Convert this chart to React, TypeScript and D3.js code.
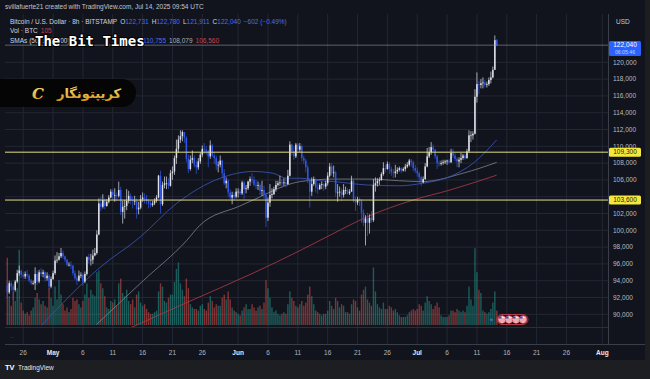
import React from 'react';
import * as d3 from 'd3';

// ---------- DATA (BTC/USD 8h, thousands of USD) ----------
const firstOpen = 93.4;
const firstCandle = Date.UTC(2025, 3, 23, 8);
const closes = [
  92.6, 93.7,
  93.3, 92.9, 93.9, 94.9, 95.2, 94.7, 94.5, 94.8, 94.6, 94.0, 93.7, 93.7, 94.8, 93.9, 95.0, 94.8, 95.0, 94.3, 94.6, 93.3, 94.2,
  94.9, 96.4, 96.5, 96.9, 97.3, 96.9, 96.5, 95.9, 95.9, 95.8, 94.9, 94.3, 94.0, 94.6, 94.7, 93.9, 94.8, 96.8, 96.5, 96.5, 97.0,
  97.3, 99.5, 103.2, 102.8, 103.6, 102.9, 103.4, 103.9, 104.6, 104.2, 104.2, 104.1, 104.8, 102.2, 102.8, 102.9, 103.5, 104.1,
  103.6, 103.5, 103.5, 102.5, 102.7, 103.7, 103.9, 103.8, 103.5, 103.2, 103.0, 103.2, 103.5, 103.9, 106.5, 103.1, 105.4, 105.6,
  105.6, 105.3, 106.8, 107.0, 108.6, 109.7, 110.8, 111.2, 111.7, 111.0, 108.5, 107.3, 108.4, 108.6, 107.8, 107.5, 108.2, 109.0,
  109.7, 109.6, 109.4, 108.8, 110.1, 108.9, 108.6, 107.8, 107.8, 108.3, 106.8, 105.6, 105.9, 104.5, 103.9, 104.2, 104.0, 104.6,
  104.6, 104.4, 105.7, 104.9, 105.0, 105.8, 106.1, 106.0, 105.4, 105.3, 105.4, 104.7, 104.8, 104.2, 101.5, 103.3, 104.2, 104.3,
  104.9, 105.4, 105.6, 105.7, 105.6, 105.7, 105.5, 106.5, 110.2, 109.4, 108.8, 110.2, 109.6, 110.0, 108.6, 108.3, 107.5, 105.9,
  104.6, 105.5, 106.1, 105.1, 104.9, 105.4, 105.5, 105.2, 105.6, 106.5, 107.6, 106.8, 106.9, 104.5, 104.5, 104.6, 104.2, 104.8,
  104.8, 104.4, 104.6, 105.9, 103.5, 103.3, 103.7, 103.5, 102.1, 100.9, 101.4, 100.9, 101.5, 101.2, 105.4, 105.6, 105.9, 106.0,
  106.7, 107.4, 107.3, 107.9, 107.3, 106.9, 106.8, 107.0, 107.2, 107.4, 107.1, 107.3, 107.6, 107.8, 108.3, 108.1, 107.4, 107.1,
  106.8, 106.3, 105.7, 106.1, 107.6, 108.8, 109.3, 109.9, 109.6, 108.8, 108.0, 107.9, 108.0, 108.1, 108.2, 108.3, 108.1, 109.2,
  108.9, 108.5, 108.2, 108.4, 108.6, 108.9, 108.6, 109.4, 111.3, 111.3, 111.5, 115.9, 117.4, 117.3, 117.5, 117.6, 117.3, 117.4,
  117.9, 118.2, 119.1, 122.64, 122.04,
];
const highs = [
  93.9, 94.0,
  93.9, 93.6, 94.1, 95.3, 95.8, 95.3, 95.0, 95.1, 95.3, 94.8, 94.2, 94.0, 95.6, 95.2, 95.3, 95.5, 95.3, 95.1, 95.0, 94.8, 94.5,
  95.2, 97.0, 97.4, 97.3, 97.9, 97.6, 97.0, 96.6, 96.2, 96.3, 95.9, 95.2, 94.6, 95.2, 95.0, 94.9, 95.1, 96.9, 97.2, 97.2, 97.7,
  97.9, 100.0, 103.8, 104.0, 104.3, 103.8, 103.7, 104.2, 104.9, 104.9, 105.0, 104.5, 105.8, 105.2, 103.5, 103.6, 104.9, 104.7,
  104.4, 104.0, 104.1, 103.8, 103.4, 104.2, 104.5, 104.4, 104.2, 103.7, 103.5, 103.5, 103.8, 104.2, 106.6, 107.1, 105.8, 106.4,
  106.4, 106.2, 107.2, 107.6, 108.9, 110.8, 111.3, 111.9, 111.9, 111.5, 111.2, 109.0, 108.9, 109.5, 108.9, 108.3, 108.6, 109.3,
  110.1, 110.4, 110.0, 109.6, 110.7, 110.3, 109.3, 108.9, 108.2, 108.9, 108.4, 107.3, 106.3, 106.1, 104.9, 104.6, 104.5, 105.0,
  105.0, 104.9, 105.9, 105.9, 105.4, 105.9, 106.4, 106.8, 106.4, 106.0, 105.8, 105.6, 105.9, 105.3, 104.5, 103.9, 105.5, 105.0,
  105.2, 105.9, 105.9, 106.5, 106.1, 106.2, 106.2, 107.2, 110.6, 110.3, 110.0, 110.4, 110.4, 110.4, 110.2, 108.9, 108.5, 107.8,
  106.2, 106.3, 106.4, 106.2, 105.6, 105.6, 105.8, 105.6, 105.9, 106.9, 108.0, 108.0, 107.7, 107.1, 105.5, 105.2, 105.0, 105.5,
  105.2, 105.0, 104.9, 106.5, 106.1, 104.0, 104.0, 103.9, 103.7, 102.5, 101.8, 102.1, 101.9, 102.3, 106.1, 106.3, 106.2, 106.3,
  106.9, 108.1, 107.8, 108.2, 108.1, 107.6, 107.3, 107.8, 107.5, 107.6, 107.5, 107.5, 107.9, 108.1, 108.5, 108.5, 108.3, 107.8,
  107.5, 107.0, 106.5, 106.4, 108.0, 109.8, 109.9, 110.5, 110.2, 109.7, 109.0, 108.3, 108.3, 108.4, 108.4, 108.4, 108.5, 109.7,
  109.7, 109.2, 108.7, 108.7, 109.2, 109.1, 109.1, 109.7, 111.9, 111.8, 111.8, 116.8, 118.8, 117.8, 118.0, 118.2, 117.9, 117.7,
  118.2, 118.9, 119.5, 123.2, 122.78,
];
const lows = [
  91.9, 92.4,
  92.8, 91.7, 92.7, 93.7, 94.6, 94.3, 94.3, 94.2, 94.3, 93.8, 93.5, 93.5, 92.9, 93.5, 93.7, 94.5, 94.4, 93.9, 94.0, 92.9, 93.1,
  94.1, 94.7, 96.1, 96.4, 96.7, 96.6, 96.2, 95.7, 95.7, 95.4, 94.6, 94.1, 93.5, 93.9, 94.3, 93.4, 93.7, 94.6, 96.0, 95.8, 96.0,
  96.9, 97.1, 99.4, 102.3, 102.6, 102.5, 102.8, 103.2, 103.8, 103.6, 103.4, 103.5, 103.9, 101.8, 100.8, 101.4, 102.4, 103.2,
  103.1, 102.6, 103.0, 101.4, 101.9, 102.5, 103.4, 103.2, 103.1, 102.6, 102.7, 102.8, 103.0, 103.3, 103.8, 102.0, 102.9, 105.0,
  104.9, 104.9, 105.2, 106.0, 106.6, 107.9, 109.2, 110.4, 110.6, 110.4, 108.1, 106.8, 107.1, 108.0, 107.5, 106.7, 107.2, 107.9,
  108.7, 109.1, 109.0, 107.5, 108.5, 108.7, 107.9, 107.2, 106.9, 107.5, 106.2, 105.4, 105.0, 104.0, 103.7, 103.1, 103.6, 103.8,
  103.9, 104.2, 104.2, 103.7, 104.4, 104.8, 105.3, 105.6, 105.2, 104.9, 104.8, 104.2, 104.1, 103.7, 100.4, 101.1, 102.8, 103.8,
  104.2, 104.6, 105.2, 105.3, 105.0, 105.3, 105.1, 105.4, 106.4, 108.9, 108.4, 108.6, 109.2, 109.3, 108.2, 107.9, 106.9, 105.6,
  102.7, 104.1, 105.3, 104.5, 104.3, 104.8, 104.9, 104.7, 104.9, 105.3, 106.3, 106.5, 106.3, 104.0, 103.4, 104.0, 103.5, 103.9,
  104.3, 104.2, 104.2, 104.6, 103.3, 102.3, 103.0, 102.9, 100.9, 100.5, 98.2, 99.3, 99.6, 100.9, 101.0, 104.6, 105.2, 105.4,
  105.9, 106.5, 106.9, 107.2, 106.7, 106.5, 106.2, 106.3, 106.7, 107.0, 106.8, 107.0, 107.0, 107.4, 107.6, 107.6, 107.0, 106.8,
  106.4, 105.6, 105.3, 105.6, 106.0, 107.5, 108.6, 109.0, 109.3, 108.5, 107.3, 107.6, 107.7, 107.8, 107.9, 107.8, 107.9, 108.0,
  108.6, 108.2, 107.5, 107.5, 108.0, 108.4, 108.4, 108.5, 109.2, 110.5, 110.8, 111.4, 115.2, 116.2, 116.9, 116.9, 117.0, 117.0,
  117.2, 117.5, 118.1, 119.1, 121.91,
];
const volumes = [
  4200, 1800,
  1200, 2100, 1500, 2300, 4700, 1400, 900, 700, 800, 600, 900, 1100, 1700, 2000, 1600, 1300, 1500, 1200, 1100, 2300, 1700,
  1200, 2400, 1600, 2800, 1900, 1300, 900, 1100, 800, 1000, 1700, 1500, 1600, 1300, 1100, 1500, 1900, 2600, 1700, 2200, 1900,
  1800, 3300, 3400, 2600, 2300, 1800, 1100, 1000, 1500, 1400, 1600, 1200, 2600, 2900, 2000, 1800, 2200, 1500,
  1300, 1600, 1100, 1900, 2100, 1400, 1200, 1300, 1000, 800, 700, 700, 800, 900, 2100, 2600, 2400, 1500,
  1400, 1700, 1900, 1900, 2700, 3500, 3900, 2600, 2200, 1800, 2900, 2300, 1300, 1100, 1000, 1000, 900, 1200,
  1300, 1000, 900, 1400, 1800, 1500, 1100, 1300, 1200, 1200, 1700, 1900, 1600, 2100, 1600, 1100, 900, 800,
  700, 600, 900, 1100, 1300, 1000, 1000, 1300, 1100, 900, 1100, 1200, 1000, 1400, 2800, 2300, 1700, 1100,
  800, 900, 700, 600, 700, 800, 700, 1300, 2100, 1700, 1500, 1200, 1100, 1300, 1500, 1200, 1400, 1900,
  2400, 1800, 1300, 900, 800, 700, 600, 700, 700, 900, 1500, 1200, 1000, 1700, 1500, 1100, 1300, 1200,
  800, 800, 700, 1300, 1600, 1500, 1100, 900, 1900, 2200, 2400, 1600, 1400, 1200, 3600, 2100, 1300, 1100,
  1000, 1400, 1000, 1000, 1200, 1100, 900, 1000, 800, 600, 500, 500, 500, 600, 800, 900, 1000, 900,
  1000, 1300, 1200, 900, 1400, 1800, 1500, 1300, 1000, 1200, 1400, 1100, 600, 500, 500, 500, 600, 900,
  900, 800, 1000, 900, 800, 900, 800, 1200, 2400, 1600, 1200, 4800, 3300, 2200, 2000, 900, 800, 700,
  800, 1000, 1400, 2100, 900,
];

// SMA readings: day offset from 26 Apr 2025, value in thousands
const smaBase = Date.UTC(2025, 3, 26);
const smaFastDays = [3.1, 12.9, 19.6, 25.7, 33, 38.5, 41.8, 44.1, 46.4, 49.7, 52, 57.5, 63, 66.9, 71.5, 75.4, 79.3];
const smaFastVals = [88.7, 95.6, 99.2, 103.2, 106.2, 107.0, 106.8, 106.2, 106.2, 105.9, 105.8, 105.4, 105.3, 105.6, 106.4, 108.0, 110.755];
const smaMidDays = [12.3, 20.1, 27.4, 29.6, 36.3, 38.5, 46.4, 52, 58.1, 63, 66.9, 73.7, 79.3];
const smaMidVals = [88.8, 94.0, 98.8, 100.6, 102.9, 103.6, 105.8, 106.1, 106.1, 105.9, 105.8, 106.8, 108.079];
const smaSlowDays = [18, 27.4, 38.5, 46.4, 49.7, 51.9, 57.6, 65.3, 71.5, 79.3];
const smaSlowVals = [88.4, 91.4, 94.9, 97.6, 98.8, 99.6, 101.6, 103.6, 104.8, 106.56];

const levelLines = [109300, 103600];
const lastPrice = 122040;
const priceTicks = d3.range(90000, 120001, 2000);
const timeTickDates = ['2025-04-26', '2025-05-01', '2025-05-06', '2025-05-11', '2025-05-16', '2025-05-21', '2025-05-26',
  '2025-06-01', '2025-06-06', '2025-06-11', '2025-06-16', '2025-06-21', '2025-06-26', '2025-07-01', '2025-07-06',
  '2025-07-11', '2025-07-16', '2025-07-21', '2025-07-26', '2025-08-01'];
const timeTickLabels = ['26', 'May', '6', '11', '16', '21', '26', 'Jun', '6', '11', '16', '21', '26', 'Jul', '6', '11', '16', '21', '26', 'Aug'];

// ---------- LAYOUT ----------
const W = 650, H = 379;
const paneL = 5, paneR = 608, paneT = 14, paneB = 327, axisY = 344;
const FONT = 'Liberation Sans, Arial, sans-serif';
const BG = '#11141c';
const GRID = '#232733';
const UP = '#dfe2ea';
const DOWN = '#3156e8';

export default function App() {
  const x = d3.scaleUtc()
    .domain([new Date(Date.UTC(2025, 3, 26)), new Date(Date.UTC(2025, 7, 1))])
    .range([23.2, 602.3]);
  const y = d3.scaleLinear().domain([90000, 120000]).range([314.3, 62.3]);
  const yv = d3.scaleLinear().domain([0, 5000]).range([325, 245]);
  const H8 = 8 * 3600 * 1000;

  const candles = closes.map((c, i) => {
    const o = i === 0 ? firstOpen : closes[i - 1];
    return { t: new Date(firstCandle + i * H8), o: o * 1000, c: c * 1000, h: highs[i] * 1000, l: lows[i] * 1000, v: volumes[i] };
  });

  const line = d3.line<[number, number]>()
    .x((d) => x(new Date(smaBase + d[0] * 86400000)))
    .y((d) => y(d[1] * 1000))
    .curve(d3.curveMonotoneX);
  const mk = (days: number[], vals: number[]) => line(days.map((d, i) => [d, vals[i]] as [number, number])) || '';

  const fmt = d3.format(',');
  // axis labels hidden behind the level boxes, as on the price scale
  const shownTicks = priceTicks.filter((p) => levelLines.every((l) => Math.abs(y(p) - y(l)) > 5));

  return (
    <svg width={W} height={H} style={{ position: 'absolute', left: 0, top: 0 }} fontFamily={FONT}>
      <defs>
        <clipPath id="pane"><rect x={paneL} y={paneT} width={paneR - paneL} height={paneB - paneT} /></clipPath>
        <linearGradient id="gold" x1="0" y1="0" x2="0" y2="1">
          <stop offset="0" stopColor="#ffe27a" />
          <stop offset="1" stopColor="#d99a1c" />
        </linearGradient>
      </defs>
      <rect x={0} y={0} width={W} height={H} fill={BG} />
      <rect x={645} y={0} width={5} height={H} fill="#1d1e22" />
      <rect x={0} y={360} width={W} height={19} fill="#1d1e22" />

      {/* grid */}
      {priceTicks.map((p) => (
        <line key={'gy' + p} x1={paneL} x2={paneR} y1={y(p)} y2={y(p)} stroke={GRID} strokeWidth={1} />
      ))}
      {timeTickDates.map((d) => (
        <line key={'gx' + d} x1={x(new Date(d))} x2={x(new Date(d))} y1={paneT} y2={axisY} stroke={GRID} strokeWidth={1} />
      ))}

      <g clipPath="url(#pane)">
        {/* volume */}
        {candles.map((k, i) => (
          <rect key={'v' + i} x={x(k.t) - 0.7} width={1.4} y={yv(k.v)} height={yv(0) - yv(k.v)}
            fill={k.c >= k.o ? 'rgba(38,166,154,0.5)' : 'rgba(239,83,80,0.5)'} />
        ))}
        {/* SMAs */}
        <path d={mk(smaSlowDays, smaSlowVals)} fill="none" stroke="#a8384a" strokeWidth={1} opacity={0.85} />
        <path d={mk(smaMidDays, smaMidVals)} fill="none" stroke="#7d828d" strokeWidth={1} opacity={0.8} />
        <path d={mk(smaFastDays, smaFastVals)} fill="none" stroke="#3550b0" strokeWidth={1} opacity={0.9} />
        {/* candles */}
        {candles.map((k, i) => {
          const col = k.c >= k.o ? UP : DOWN;
          const top = y(Math.max(k.o, k.c));
          const bot = y(Math.min(k.o, k.c));
          const cx = x(k.t);
          return (
            <g key={'c' + i}>
              <line x1={cx} x2={cx} y1={y(Math.max(k.h, k.o, k.c))} y2={y(Math.min(k.l, k.o, k.c))} stroke={col} strokeWidth={0.7} />
              <rect x={cx - 0.75} width={1.5} y={top} height={Math.max(0.7, bot - top)} fill={col} />
            </g>
          );
        })}
        {/* level lines */}
        {levelLines.map((p) => (
          <line key={'lv' + p} x1={paneL} x2={paneR} y1={y(p)} y2={y(p)} stroke="#e3dd86" strokeWidth={1} />
        ))}
        <line x1={paneL} x2={paneR} y1={y(lastPrice)} y2={y(lastPrice)} stroke="#9aa0ad" strokeWidth={0.8} opacity={0.7} />
      </g>

      {/* pane separators */}
      <line x1={paneL} x2={paneR} y1={paneB + 0.5} y2={paneB + 0.5} stroke="#2a2e39" />
      <line x1={paneL} x2={645} y1={axisY + 0.5} y2={axisY + 0.5} stroke="#3a3e49" />
      <line x1={paneR + 0.5} x2={paneR + 0.5} y1={paneT} y2={axisY} stroke="#3a3e49" />
      <text x={10} y={339} fontSize={6} fill="#6a6e78">··</text>

      {/* event flags */}
      <text x={489} y={322} fontSize={6} fill="#4a6cf7">✦</text>
      <rect x={497} y={314.5} width={31} height={10} rx={5} fill="none" stroke="#d8434e" strokeWidth={0.8} />
      {[502, 509, 516, 523].map((fx) => (
        <g key={'f' + fx}>
          <circle cx={fx} cy={319.5} r={3.8} fill="#f2f2f2" stroke="#d8434e" strokeWidth={0.8} />
          <line x1={fx - 3} x2={fx + 3} y1={319} y2={319} stroke="#d8434e" strokeWidth={0.8} />
          <line x1={fx - 3} x2={fx + 3} y1={321} y2={321} stroke="#d8434e" strokeWidth={0.8} />
          <rect x={fx - 3} y={316.5} width={2.6} height={2} fill="#3550b0" />
        </g>
      ))}

      {/* price axis */}
      <text x={616} y={24} fontSize={6.5} fill="#c8cad0">USD</text>
      {shownTicks.map((p) => (
        <text key={'pt' + p} x={613} y={y(p) + 2.3} fontSize={6.5} fill="#b8bbc4">{fmt(p)}</text>
      ))}
      <rect x={609} y={41} width={32} height={15} rx={1.5} fill="#2962ff" />
      <text x={625} y={47.3} fontSize={6.5} fill="#ffffff" textAnchor="middle">{fmt(lastPrice)}</text>
      <text x={625} y={54} fontSize={5.2} fill="#c6d2ff" textAnchor="middle">06:05:46</text>
      {levelLines.map((p) => (
        <g key={'lb' + p}>
          <rect x={609} y={y(p) - 4.5} width={32} height={9} rx={1.5} fill="#f5e83c" />
          <text x={625} y={y(p) + 2.3} fontSize={6.5} fill="#1a1a1a" textAnchor="middle">{fmt(p)}</text>
        </g>
      ))}

      {/* time axis */}
      {timeTickDates.map((d, i) => {
        const isMonth = isNaN(+timeTickLabels[i]);
        return (
          <text key={'tt' + d} x={x(new Date(d))} y={355} fontSize={6.5} textAnchor="middle"
            fill={isMonth ? '#e8e9ed' : '#b2b5be'} fontWeight={isMonth ? 'bold' : 'normal'}>{timeTickLabels[i]}</text>
        );
      })}

      {/* header & legend */}
      <text x={5} y={9} fontSize={6.5} fill="#c3c6ce">svillafuerte21 created with TradingView.com, Jul 14, 2025 09:54 UTC</text>
      <text x={10} y={24} fontSize={6.5} fill="#d1d4dc">
        Bitcoin / U.S. Dollar · 8h · BITSTAMP
        <tspan dx={3}>O</tspan><tspan fill="#4a6cf7">122,731</tspan>
        <tspan dx={3}>H</tspan><tspan fill="#4a6cf7">122,780</tspan>
        <tspan dx={3}>L</tspan><tspan fill="#4a6cf7">121,911</tspan>
        <tspan dx={3}>C</tspan><tspan fill="#4a6cf7">122,040</tspan>
        <tspan dx={3} fill="#4a6cf7">−602 (−0.49%)</tspan>
      </text>
      <text x={10} y={33} fontSize={6.5} fill="#d1d4dc">
        Vol · BTC<tspan dx={3} fill="#c2424e">105</tspan>
      </text>
      <text x={10} y={43} fontSize={6.5} fill="#d1d4dc">
        SMAs (50, 100, 200)
        <tspan x={143} fill="#4a6cf7">110,755</tspan>
        <tspan dx={3} fill="#aab0ba">108,079</tspan>
        <tspan dx={3} fill="#d2414f">106,560</tspan>
      </text>
      <text x={35} y={46} fontSize={14} fontFamily="DejaVu Sans Mono, monospace" fontWeight="bold"
        fill="#ffffff" stroke="#000000" strokeWidth={2.2} paintOrder="stroke">The Bit Times</text>

      {/* Persian logo */}
      <path d="M0,79 H122 A14,14 0 0 1 122,107 H0 Z" fill="#050505" />
      <text x={89} y={97.5} fontSize={13} fontWeight="bold" fill="url(#gold)" textAnchor="middle"
        fontFamily="DejaVu Sans, sans-serif" direction="rtl">کریپتونگار</text>
      <text x={38} y={99} fontSize={15} fontWeight="bold" fontStyle="italic" fill="url(#gold)" textAnchor="middle"
        fontFamily="DejaVu Serif, serif">C</text>

      {/* footer */}
      <text x={5} y={370} fontSize={7.5} fontWeight="bold" fill="#ffffff">TV</text>
      <text x={18} y={370} fontSize={6.5} fill="#e8e8e8">TradingView</text>
    </svg>
  );
}
